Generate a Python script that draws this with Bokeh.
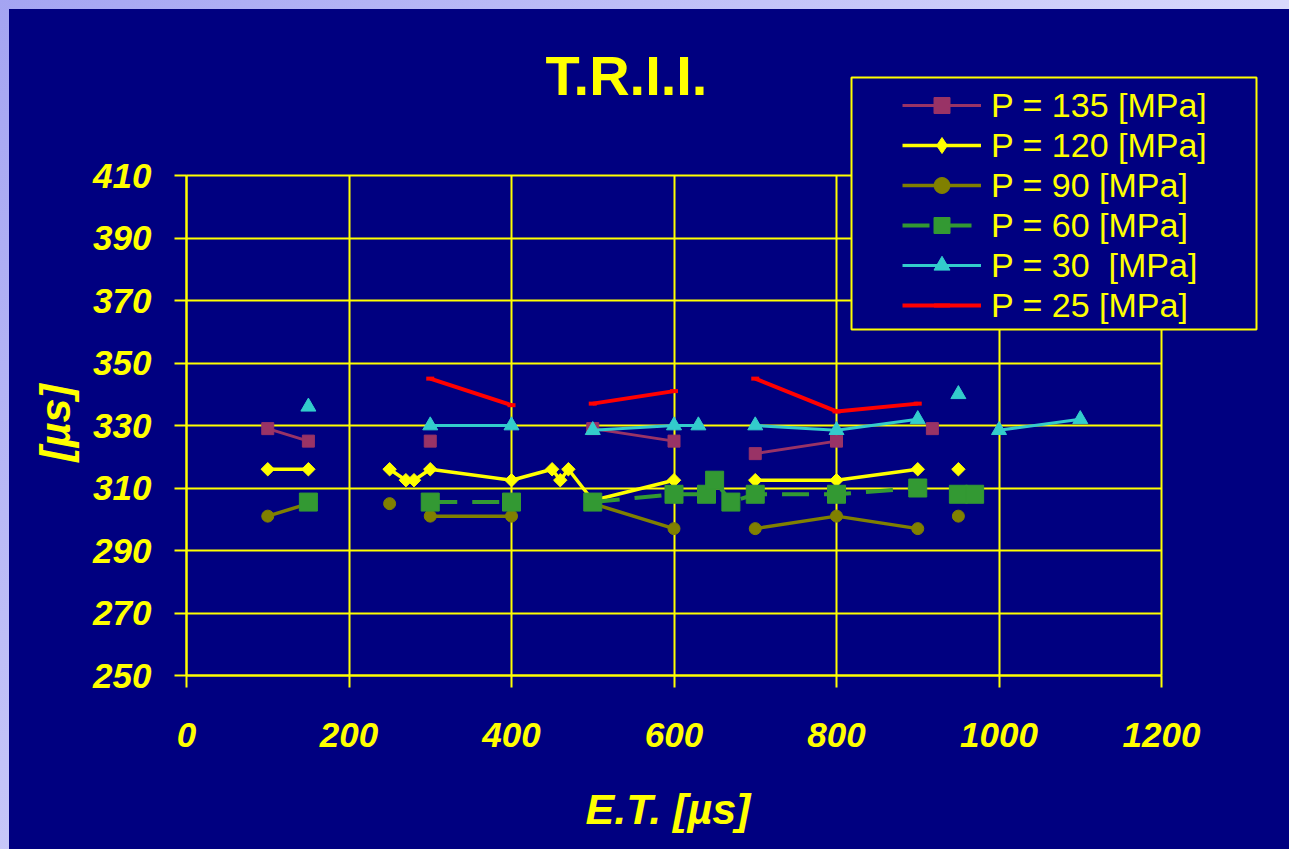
import numpy as np
from bokeh.plotting import figure
from bokeh.models import (Range1d, FixedTicker, Legend, LegendItem, BoxAnnotation,
                          ColumnDataSource, Label)
from bokeh.embed import file_html
from bokeh.resources import INLINE

nan = float("nan")

# ---------------- data ----------------
labels = ["P = 135 [MPa]", "P = 120 [MPa]", "P = 90 [MPa]",
          "P = 60 [MPa]", "P = 30  [MPa]", "P = 25 [MPa]"]

x_p135 = [100, 150, nan, 300, nan, 500, 600, nan, 700, 800, nan, 918]
y_p135 = [329, 325, nan, 325, nan, 329, 325, nan, 321, 325, nan, 329]

x_p120 = [100, 150, nan, 250, 270, 280, 300, 400, 450, 460, 470, 500, 600, nan, 700, 800, 900, nan, 950]
y_p120 = [316, 316, nan, 316, 312.5, 312.5, 316, 312.5, 316, 312.5, 316, 306, 312.5, nan, 312.5, 312.5, 316, nan, 316]

x_p90 = [100, 150, nan, 250, nan, 300, 400, nan, 500, 600, nan, 700, 800, 900, nan, 950]
y_p90 = [301, 305, nan, 305, nan, 301, 301, nan, 305, 297, nan, 297, 301, 297, nan, 301]

x_p60 = [150, nan, 300, 400, nan, 500, 600, 640, 650, 670, 700, 800, 900, nan, 950, 970]
y_p60 = [305.5, nan, 305.5, 305.5, nan, 305.5, 308, 308, 312.5, 305.5, 308, 308, 310, nan, 308, 308]

x_p30 = [150, nan, 300, 400, nan, 500, 600, 630, nan, 700, 800, 900, nan, 950, nan, 1000, 1100]
y_p30 = [336, nan, 330, 330, nan, 328.5, 330, 330, nan, 330, 328.5, 332, nan, 340, nan, 328.5, 332]

x_p25 = [300, 400, nan, 500, 600, nan, 700, 800, 900]
y_p25 = [345, 336.5, nan, 337, 341, nan, 345, 334.5, 337]

x_ticks = [0, 200, 400, 600, 800, 1000, 1200]
y_ticks = [250, 270, 290, 310, 330, 350, 370, 390, 410]
x_lo, x_hi = 0, 1200
y_lo, y_hi = 250, 410

title_text = "T.R.I.I."
x_title = "E.T. [µs]"
y_title = "[µs]"

# ---------------- layout (page pixels) ----------------
W, H = 1289, 849
EDGE = 9                       # light strip at top and left
AX_L, AX_R = 186, 1161         # x = 0 .. 1200 on screen
AX_T, AX_B = 175, 675          # y = 410 .. 250 on screen
px_x = (AX_R - AX_L) / (x_hi - x_lo)
px_y = (AX_B - AX_T) / (y_hi - y_lo)
x_start = x_lo - (AX_L - EDGE) / px_x
x_end = x_lo + (W - AX_L) / px_x
y_start = y_lo - (H - AX_B) / px_y
y_end = y_lo + (AX_B - EDGE) / px_y


def sx(page_x):   # screen units are measured from the frame's bottom-left
    return page_x - EDGE


def sy(page_y):
    return H - page_y


NAVY = "#000080"
YEL = "#FFFF00"
FONT = "Liberation Sans"

styles = [
    dict(color="#993366", width=3, dash="solid", marker="square", size=12, angle=0.0),
    dict(color="#FFFF00", width=3.5, dash="solid", marker="square", size=9.5, angle=np.pi / 4),
    dict(color="#808000", width=3.5, dash="solid", marker="circle", size=12, angle=0.0),
    dict(color="#339933", width=4, dash="27 15", marker="square", size=18, angle=0.0),
    dict(color="#33CCCC", width=3, dash="solid", marker="triangle", size=15, angle=0.0),
    dict(color="#FF0000", width=4, dash="solid", marker="dash", size=8, angle=0.0),
]
series = [(x_p135, y_p135), (x_p120, y_p120), (x_p90, y_p90),
          (x_p60, y_p60), (x_p30, y_p30), (x_p25, y_p25)]

p = figure(width=W, height=H, title=None,
           x_range=Range1d(x_start, x_end), y_range=Range1d(y_start, y_end),
           output_backend="svg", toolbar_location=None,
           min_border_left=EDGE, min_border_right=0,
           min_border_top=EDGE, min_border_bottom=0,
           background_fill_color=NAVY, border_fill_color=None,
           outline_line_color=None)
p.styles = {"background": "linear-gradient(#000080, #000080) 9px 9px / 100% 100% no-repeat, "
                          "linear-gradient(135deg, #A4A4F2 0%, #D8D8FC 60%, #ECECFF 100%)"}

# axes, fixed at x = 0 and y = 250
for ax in (p.xaxis[0], p.yaxis[0]):
    ax.axis_line_color = YEL
    ax.axis_line_width = 2
    ax.major_tick_line_color = YEL
    ax.major_tick_line_width = 2
    ax.major_tick_out = 12
    ax.major_tick_in = 0
    ax.minor_tick_line_color = None
    ax.major_label_text_font = FONT
    ax.major_label_text_font_size = "35px"
    ax.major_label_text_font_style = "bold italic"
    ax.major_label_text_color = YEL

p.xaxis.ticker = FixedTicker(ticks=x_ticks)
p.yaxis.ticker = FixedTicker(ticks=y_ticks)
p.xaxis.bounds = (x_lo, x_hi)
p.yaxis.bounds = (y_lo, y_hi)
p.xaxis.fixed_location = y_lo
p.yaxis.fixed_location = x_lo
p.xaxis.major_label_standoff = 35
p.yaxis.major_label_standoff = 23

p.xgrid.grid_line_color = YEL
p.ygrid.grid_line_color = YEL
p.xgrid.grid_line_width = 2
p.ygrid.grid_line_width = 2
p.xgrid.bounds = (x_lo, x_hi)
p.ygrid.bounds = (y_lo, y_hi)
p.xgrid.cross_bounds = (y_lo, y_hi)
p.ygrid.cross_bounds = (x_lo, x_hi)

# series
items = []
for (xs, ys), st, lbl in zip(series, styles, labels):
    src = ColumnDataSource(dict(x=np.array(xs, dtype=float), y=np.array(ys, dtype=float)))
    rl = p.line("x", "y", source=src, line_color=st["color"], line_width=st["width"],
                line_dash=st["dash"])
    if st["marker"] == "dash":
        rm = p.scatter("x", "y", source=src, marker="dash", size=st["size"],
                       line_color=st["color"], line_width=4)
        leg = [rl, rm]
    else:
        rm = p.scatter("x", "y", source=src, marker=st["marker"], size=st["size"],
                       angle=st["angle"], fill_color=st["color"], line_color=st["color"])
        leg = [rl, rm]
        if st["angle"] != 0.0:
            # legend swatch: a diamond (rotated markers are drawn unrotated in legends)
            rd = p.scatter(x=[nan], y=[nan], marker="diamond", size=st["size"],
                           fill_color=st["color"], line_color=st["color"])
            leg = [rl, rd]
    items.append(LegendItem(label=lbl, renderers=leg))

# legend frame
box = BoxAnnotation(left=sx(851), right=sx(1256), top=sy(77), bottom=sy(329),
                    left_units="screen", right_units="screen",
                    top_units="screen", bottom_units="screen",
                    fill_color=NAVY, fill_alpha=1, line_color=YEL, line_alpha=1, line_width=2)
p.add_layout(box)

# titles
p.add_layout(Label(x=sx(626), y=sy(75), x_units="screen", y_units="screen",
                   text=title_text, text_align="center", text_baseline="alphabetic",
                   text_font=FONT, text_font_size="56px", text_font_style="bold",
                   text_color=YEL))
p.add_layout(Label(x=sx(585), y=sy(808), x_units="screen", y_units="screen",
                   text=x_title, text_align="left", text_baseline="alphabetic",
                   text_font=FONT, text_font_size="43px", text_font_style="bold italic",
                   text_color=YEL))
p.add_layout(Label(x=sx(54), y=sy(461), x_units="screen", y_units="screen", angle=np.pi / 2,
                   text=y_title, text_align="left", text_baseline="alphabetic",
                   text_font=FONT, text_font_size="43px", text_font_style="bold italic",
                   text_color=YEL))

legend = Legend(items=items, location=(sx(898), sy(329)), padding=4, spacing=0, margin=0,
                label_height=40, glyph_height=40, glyph_width=79, label_standoff=10,
                border_line_alpha=0, background_fill_alpha=0,
                label_text_font=FONT, label_text_font_size="34px",
                label_text_color=YEL, click_policy="none")
p.add_layout(legend)

open("out.html", "w").write(file_html(p, INLINE))
